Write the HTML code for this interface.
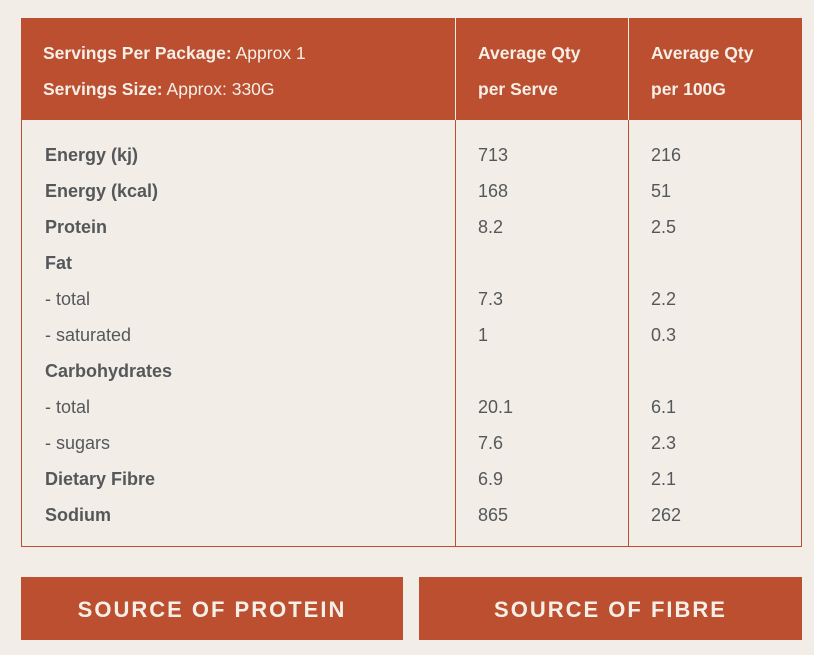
<!DOCTYPE html>
<html><head><style>
body{margin:0;width:814px;height:655px;background:#f2ede6;font-family:"Liberation Sans",sans-serif;position:relative;overflow:hidden}
.t{position:absolute;left:21px;top:18px;width:779px;height:527px;border:1px solid #bb4f2f}
.h{position:absolute;left:21px;top:18px;width:781px;height:102px;background:#bb4f2f}
.v{position:absolute;top:18px;width:1px;height:529px;background:#bb4f2f}
.vh{position:absolute;top:18px;width:1px;height:102px;background:#f2ede6}
.x{position:absolute;white-space:nowrap;line-height:36px;font-size:18px;color:#55585b;transform:translateY(-18px)}
.w{color:#f5efe8;font-size:17.5px}
b{font-weight:bold}
.btn{position:absolute;top:577px;height:63px;background:#bb4f2f;color:#f5efe8;font-weight:bold;font-size:22px;letter-spacing:2px;text-align:center;line-height:66px}
</style></head><body>
<div class="t"></div><div class="h"></div>
<div class="vh" style="left:455px"></div><div class="vh" style="left:628px"></div>
<div class="v" style="left:455px;top:120px;height:427px"></div><div class="v" style="left:628px;top:120px;height:427px"></div>
<div class="x w" style="left:43px;top:53px"><b>Servings Per Package:</b> Approx 1</div>
<div class="x w" style="left:43px;top:89px"><b>Servings Size:</b> Approx: 330G</div>
<div class="x w" style="left:478px;top:53px"><b>Average Qty</b></div>
<div class="x w" style="left:478px;top:89px"><b>per Serve</b></div>
<div class="x w" style="left:651px;top:53px"><b>Average Qty</b></div>
<div class="x w" style="left:651px;top:89px"><b>per 100G</b></div>

<div class="x" style="left:45px;top:155px"><b>Energy (kj)</b></div><div class="x" style="left:478px;top:155px">713</div><div class="x" style="left:651px;top:155px">216</div>
<div class="x" style="left:45px;top:191px"><b>Energy (kcal)</b></div><div class="x" style="left:478px;top:191px">168</div><div class="x" style="left:651px;top:191px">51</div>
<div class="x" style="left:45px;top:227px"><b>Protein</b></div><div class="x" style="left:478px;top:227px">8.2</div><div class="x" style="left:651px;top:227px">2.5</div>
<div class="x" style="left:45px;top:263px"><b>Fat</b></div>
<div class="x" style="left:45px;top:299px">- total</div><div class="x" style="left:478px;top:299px">7.3</div><div class="x" style="left:651px;top:299px">2.2</div>
<div class="x" style="left:45px;top:335px">- saturated</div><div class="x" style="left:478px;top:335px">1</div><div class="x" style="left:651px;top:335px">0.3</div>
<div class="x" style="left:45px;top:371px"><b>Carbohydrates</b></div>
<div class="x" style="left:45px;top:407px">- total</div><div class="x" style="left:478px;top:407px">20.1</div><div class="x" style="left:651px;top:407px">6.1</div>
<div class="x" style="left:45px;top:443px">- sugars</div><div class="x" style="left:478px;top:443px">7.6</div><div class="x" style="left:651px;top:443px">2.3</div>
<div class="x" style="left:45px;top:479px"><b>Dietary Fibre</b></div><div class="x" style="left:478px;top:479px">6.9</div><div class="x" style="left:651px;top:479px">2.1</div>
<div class="x" style="left:45px;top:515px"><b>Sodium</b></div><div class="x" style="left:478px;top:515px">865</div><div class="x" style="left:651px;top:515px">262</div>

<div class="btn" style="left:21px;width:382px">SOURCE OF PROTEIN</div>
<div class="btn" style="left:419px;width:383px">SOURCE OF FIBRE</div>
</body></html>
